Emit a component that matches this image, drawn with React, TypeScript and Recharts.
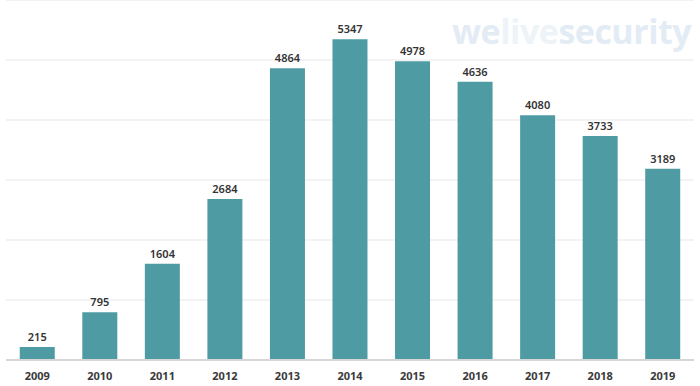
import { BarChart, Bar, XAxis, YAxis, CartesianGrid, LabelList } from 'recharts'

const years = ['2009', '2010', '2011', '2012', '2013', '2014', '2015', '2016', '2017', '2018', '2019']
const counts = [215, 795, 1604, 2684, 4864, 5347, 4978, 4636, 4080, 3733, 3189]
const yTicks = [0, 1000, 2000, 3000, 4000, 5000]

const data = years.map((year, i) => ({ year, count: counts[i] }))

const font = '"Noto Sans", "Open Sans", sans-serif'

export default function App() {
  return (
    <div style={{ position: 'absolute', left: 0, top: 0, width: 700, height: 386, background: '#fff' }}>
      <BarChart
        width={700}
        height={386}
        data={data}
        margin={{ top: 0, right: 6, left: 6, bottom: 0 }}
        barCategoryGap="22%"
      >
        <CartesianGrid vertical={false} stroke="#efefef" strokeWidth={1.5} />
        <XAxis
          dataKey="year"
          height={26}
          tickLine={false}
          axisLine={{ stroke: '#d6d6d6', strokeWidth: 2 }}
          tick={{ fill: '#3a3a3a', fontSize: 11, fontWeight: 700, fontFamily: font }}
          tickMargin={6}
          interval={0}
        />
        <YAxis hide domain={[0, 6000]} ticks={yTicks} />
        <Bar dataKey="count" fill="#4e9ba4" isAnimationActive={false}>
          <LabelList
            dataKey="count"
            position="top"
            offset={6}
            style={{ fill: '#333', fontSize: 11, fontWeight: 600, fontFamily: font }}
          />
        </Bar>
      </BarChart>
      <div
        style={{
          position: 'absolute',
          left: 452,
          top: 8,
          fontFamily: '"Open Sans", sans-serif',
          fontWeight: 700,
          fontSize: 34,
          letterSpacing: -0.5,
          lineHeight: '46px',
          color: '#e3ecf4',
          whiteSpace: 'nowrap',
        }}
      >
        we<span style={{ color: '#eef3f8' }}>live</span>security
      </div>
    </div>
  )
}
